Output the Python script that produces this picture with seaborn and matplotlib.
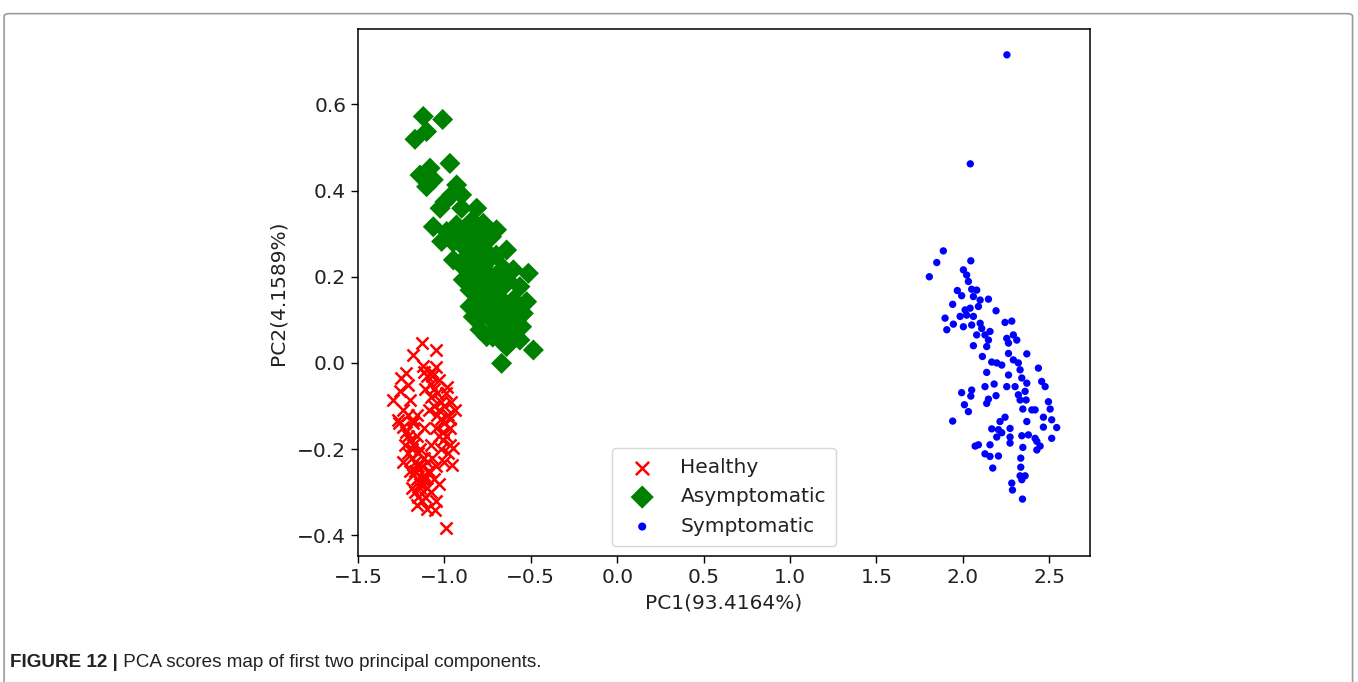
import matplotlib
matplotlib.use("Agg")
import matplotlib.pyplot as plt
import seaborn as sns
import pandas as pd
from matplotlib.patches import FancyBboxPatch

# ---------------- data ----------------
healthy_x = [-1.132, -1.049, -1.184, -1.222, -1.253, -1.122, -1.074, -1.257, -1.299, -1.199,
             -1.209, -0.987, -0.939, -0.948, -0.958, -1.054, -0.991, -1.267, -1.238, -1.180,
             -1.10, -1.08, -1.06, -1.04, -1.02, -1.00, -1.08, -1.06, -1.04, -1.02,
             -1.00, -0.98, -0.97, -1.05, -1.03, -1.01, -0.99, -0.97, -1.09, -1.11,
             -1.12, -1.07, -1.03, -0.99, -0.96, -0.98, -1.00, -1.02, -0.97, -1.05,
             -1.22, -1.20, -1.18, -1.16, -1.21, -1.19, -1.17, -1.15, -1.13, -1.20,
             -1.18, -1.16, -1.14, -1.12, -1.10, -1.17, -1.15, -1.13, -1.11, -1.08,
             -1.06, -1.09, -1.23, -1.24, -1.14, -1.12, -1.10, -1.07, -1.05, -1.19,
             -1.16, -1.10, -1.12, -1.18, -1.24, -1.21, -1.16, -1.26, -1.05, -1.08,
             -1.03, -1.19, -1.17, -1.15, -1.13, -1.21, -1.14, -1.11, -1.03, -1.01]
healthy_y = [0.047, 0.030, 0.019, -0.024, -0.036, -0.008, -0.020, -0.066, -0.086, -0.086,
             -0.051, -0.055, -0.109, -0.198, -0.237, -0.341, -0.384, -0.132, -0.148, -0.132,
             -0.03, -0.05, -0.06, -0.07, -0.09, -0.10, -0.08, -0.10, -0.12, -0.13,
             -0.14, -0.12, -0.15, -0.15, -0.17, -0.18, -0.17, -0.19, -0.11, -0.06,
             -0.02, -0.03, -0.04, -0.07, -0.09, -0.21, -0.23, -0.20, -0.13, -0.01,
             -0.16, -0.18, -0.19, -0.17, -0.21, -0.22, -0.23, -0.21, -0.24, -0.25,
             -0.26, -0.27, -0.28, -0.26, -0.29, -0.30, -0.31, -0.32, -0.31, -0.30,
             -0.27, -0.25, -0.19, -0.23, -0.20, -0.22, -0.23, -0.22, -0.24, -0.29,
             -0.33, -0.34, -0.15, -0.14, -0.11, -0.12, -0.12, -0.14, -0.32, -0.19,
             -0.28, -0.20, -0.25, -0.24, -0.27, -0.17, -0.29, -0.27, -0.11, -0.16]

asym_x = [-1.122, -1.010, -1.103, -1.170, -0.968, -1.141, -1.083, -1.064, -1.103, -0.929,
          -0.900, -0.958, -0.997, -1.025, -0.900, -0.813, -1.064, -0.987, -1.016, -0.929,
          -0.862, -0.775, -0.698, -0.727, -0.833, -0.891, -0.948, -0.871, -0.794, -0.640,
          -0.736, -0.891, -0.833, -0.775, -0.678, -0.601, -0.514, -0.852, -0.794, -0.736,
          -0.659, -0.563, -0.852, -0.813, -0.755, -0.688, -0.601, -0.524, -0.833, -0.775,
          -0.698, -0.620, -0.543, -0.794, -0.755, -0.698, -0.640, -0.553, -0.620, -0.563,
          -0.640, -0.485, -0.669,
          -0.80, -0.78, -0.76, -0.74, -0.79, -0.82, -0.84, -0.77, -0.73, -0.71,
          -0.75, -0.70, -0.72, -0.68, -0.66, -0.73, -0.69, -0.76, -0.80, -0.86,
          -0.88, -0.84, -0.78, -0.66, -0.63, -0.61, -0.65, -0.58, -0.60, -0.72,
          -0.67, -0.82, -0.86, -0.91, -0.95, -0.93, -0.81, -0.77, -0.74, -0.70]
asym_y = [0.572, 0.565, 0.537, 0.519, 0.463, 0.436, 0.452, 0.425, 0.409, 0.413,
          0.390, 0.390, 0.374, 0.359, 0.359, 0.359, 0.316, 0.305, 0.282, 0.293,
          0.316, 0.324, 0.309, 0.293, 0.285, 0.270, 0.239, 0.247, 0.262, 0.262,
          0.247, 0.193, 0.216, 0.224, 0.208, 0.216, 0.208, 0.169, 0.177, 0.185,
          0.177, 0.177, 0.131, 0.146, 0.154, 0.138, 0.146, 0.142, 0.107, 0.115,
          0.107, 0.107, 0.115, 0.077, 0.061, 0.077, 0.077, 0.084, 0.057, 0.053,
          0.038, 0.030, -0.001,
          0.30, 0.28, 0.26, 0.24, 0.23, 0.25, 0.22, 0.21, 0.20, 0.18,
          0.17, 0.15, 0.13, 0.12, 0.10, 0.10, 0.09, 0.19, 0.20, 0.26,
          0.30, 0.33, 0.32, 0.22, 0.19, 0.13, 0.14, 0.10, 0.07, 0.06,
          0.05, 0.17, 0.19, 0.23, 0.28, 0.32, 0.12, 0.14, 0.29, 0.25]

symp_x = [1.887, 1.849, 1.806, 2.046, 2.003, 2.022, 2.032, 1.968, 1.993, 2.051,
          2.080, 2.061, 2.100, 2.148, 1.941, 2.013, 2.042, 2.090, 2.192, 1.897,
          1.984, 2.022, 2.061, 1.945, 2.003, 2.051, 2.100, 1.907, 2.109, 2.157,
          2.244, 2.283, 2.080, 2.128, 2.148, 2.254, 2.292, 2.312, 2.061, 2.138,
          2.264, 2.370, 2.113, 2.167, 2.196, 2.225, 2.264, 2.292, 2.321, 2.437,
          2.138, 2.264, 2.331, 2.341, 2.370, 2.456, 2.476, 2.128, 2.181, 2.254,
          2.302, 1.993, 2.051, 2.046, 2.148, 2.192, 2.321, 2.360, 2.138, 2.009,
          2.032, 2.331, 2.366, 2.495, 2.505, 2.347, 2.399, 2.418, 2.466, 1.941,
          2.215, 2.244, 2.370, 2.514, 2.167, 2.206, 2.225, 2.273, 2.466, 2.543,
          2.196, 2.273, 2.341, 2.379, 2.418, 2.514, 2.071, 2.090, 2.157, 2.273,
          2.347, 2.428, 2.447, 2.428, 2.128, 2.157, 2.206, 2.335, 2.173, 2.335,
          2.331, 2.360, 2.341, 2.283, 2.287, 2.345, 2.255, 2.043]
symp_y = [0.260, 0.233, 0.200, 0.237, 0.216, 0.204, 0.189, 0.168, 0.156, 0.171,
          0.169, 0.154, 0.146, 0.148, 0.136, 0.123, 0.127, 0.131, 0.121, 0.104,
          0.108, 0.111, 0.108, 0.090, 0.084, 0.088, 0.092, 0.077, 0.080, 0.073,
          0.094, 0.097, 0.065, 0.065, 0.053, 0.057, 0.065, 0.053, 0.040, 0.038,
          0.046, 0.021, 0.015, 0.002, 0.000, -0.005, 0.022, 0.007, 0.000, -0.012,
          -0.022, -0.028, -0.016, -0.035, -0.047, -0.043, -0.055, -0.055, -0.049, -0.055,
          -0.055, -0.069, -0.063, -0.077, -0.084, -0.076, -0.074, -0.066, -0.094, -0.097,
          -0.113, -0.086, -0.086, -0.090, -0.107, -0.107, -0.109, -0.109, -0.126, -0.135,
          -0.136, -0.126, -0.136, -0.132, -0.153, -0.155, -0.162, -0.152, -0.149, -0.150,
          -0.172, -0.172, -0.169, -0.167, -0.175, -0.175, -0.193, -0.190, -0.190, -0.186,
          -0.196, -0.182, -0.193, -0.202, -0.211, -0.217, -0.216, -0.221, -0.244, -0.242,
          -0.262, -0.262, -0.271, -0.279, -0.295, -0.316, 0.715, 0.462]

x_ticks = [-1.5, -1.0, -0.5, 0.0, 0.5, 1.0, 1.5, 2.0, 2.5]
y_ticks = [-0.4, -0.2, 0.0, 0.2, 0.4, 0.6]
x_label = "PC1(93.4164%)"
y_label = "PC2(4.1589%)"
caption_bold = "FIGURE 12 |"
caption_text = " PCA scores map of first two principal components."

FS = 14.5
TXT = "#222222"

# ---------------- figure ----------------
fig = plt.figure(figsize=(13.58, 6.82), dpi=100)
ax = fig.add_axes([0.2636, 0.1848, 0.5391, 0.7727])

# outer frame like the journal figure box
frame = FancyBboxPatch((0.003, -0.02), 0.993, 1.0, boxstyle="round,pad=0,rounding_size=0.004",
                       transform=fig.transFigure, fill=False, edgecolor="#9a9a9a",
                       linewidth=1.2, zorder=-10)
fig.patches.append(frame)

sns.scatterplot(x=healthy_x, y=healthy_y, ax=ax, marker="x", color="red",
                s=75, linewidth=1.8, label="Healthy")
sns.scatterplot(x=asym_x, y=asym_y, ax=ax, marker="D", color="green",
                s=115, linewidth=0, edgecolor="none", label="Asymptomatic")
sns.scatterplot(x=symp_x, y=symp_y, ax=ax, marker="o", color="blue",
                s=28, linewidth=0, edgecolor="none", label="Symptomatic")

ax.set_xlim(-1.5, 2.736)
ax.set_ylim(-0.448, 0.775)
ax.set_xticks(x_ticks)
ax.set_yticks(y_ticks)
ax.set_xticklabels([f"{v:.1f}".replace("-", "\u2212") for v in x_ticks])
ax.set_yticklabels([f"{v:.1f}".replace("-", "\u2212") for v in y_ticks])
ax.tick_params(labelsize=FS, length=5, width=1, direction="out", labelcolor=TXT)
for sp in ax.spines.values():
    sp.set_linewidth(1.1)
    sp.set_color("black")
ax.set_xlabel(x_label, fontsize=FS, labelpad=5, color=TXT)
ax.set_ylabel(y_label, fontsize=FS, labelpad=7, color=TXT)

leg = ax.legend(loc="lower center", fontsize=FS, frameon=True, borderpad=0.5,
                labelspacing=0.52, handletextpad=0.9, markerscale=1.1)
leg.get_frame().set_edgecolor("#cccccc")
for t in leg.get_texts():
    t.set_color(TXT)

cap_family = ["Liberation Sans Narrow", "Liberation Sans", "DejaVu Sans"]
t1 = fig.text(0.0075, 0.022, caption_bold, fontsize=13.6, fontweight="bold",
              family=cap_family, ha="left", va="baseline", color=TXT)
fig.canvas.draw()
bb = t1.get_window_extent()
x_end = bb.x1 / fig.bbox.width
fig.text(x_end, 0.022, caption_text, fontsize=13.6, family=cap_family,
         ha="left", va="baseline", color=TXT)

fig.savefig("out.png", dpi=100)
